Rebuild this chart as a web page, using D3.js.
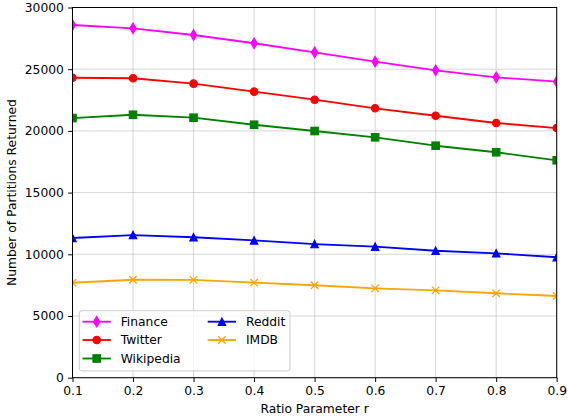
<!DOCTYPE html>
<html>
<head>
<meta charset="utf-8">
<script src="https://cdn.jsdelivr.net/npm/d3@7"></script>
<style>
  html, body { margin: 0; padding: 0; background: #fff; }
  svg { display: block; font-family: "DejaVu Sans", sans-serif; }
</style>
</head>
<body>
<svg id="chart" width="568" height="416"></svg>
<script>
// ---- data ----
const ratios = [0.1, 0.2, 0.3, 0.4, 0.5, 0.6, 0.7, 0.8, 0.9];
const finance   = [28580, 28310, 27770, 27100, 26370, 25610, 24910, 24340, 23990];
const twitter   = [24310, 24270, 23830, 23180, 22530, 21830, 21230, 20640, 20230];
const wikipedia = [21040, 21310, 21070, 20500, 19990, 19480, 18800, 18270, 17620];
const reddit    = [11320, 11560, 11380, 11130, 10830, 10620, 10290, 10080, 9760];
const imdb      = [7700, 7940, 7930, 7700, 7490, 7240, 7080, 6840, 6620];
const seriesNames = ["Finance", "Twitter", "Wikipedia", "Reddit", "IMDB"];
const xTicks = [0.1, 0.2, 0.3, 0.4, 0.5, 0.6, 0.7, 0.8, 0.9];
const yTicks = [0, 5000, 10000, 15000, 20000, 25000, 30000];
const xLabel = "Ratio Parameter r";
const yLabel = "Number of Partitions Returned";

const series = [
  { name: seriesNames[0], values: finance,   color: "#ff00ff", marker: "thindiamond" },
  { name: seriesNames[1], values: twitter,   color: "#ff0000", marker: "circle" },
  { name: seriesNames[2], values: wikipedia, color: "#008000", marker: "square" },
  { name: seriesNames[3], values: reddit,    color: "#0000ff", marker: "triangle" },
  { name: seriesNames[4], values: imdb,      color: "#ffa500", marker: "x" }
];

// ---- layout ----
const L = 72.5, R = 556.7, T = 7.5, B = 377.7;
const fs = 12.3;
const svg = d3.select("#chart");

const x = d3.scaleLinear().domain([0.1, 0.9]).range([L, R]);
const y = d3.scaleLinear().domain([0, 30000]).range([B, T]);

// clip
svg.append("defs").append("clipPath").attr("id", "clip")
  .append("rect").attr("x", L).attr("y", T).attr("width", R - L).attr("height", B - T);

// grid
const grid = svg.append("g");
grid.selectAll("line.gx").data(xTicks).enter().append("line")
  .attr("x1", d => x(d)).attr("x2", d => x(d)).attr("y1", T).attr("y2", B)
  .attr("stroke", "#b0b0b0").attr("stroke-opacity", 0.5).attr("stroke-width", 1);
grid.selectAll("line.gy").data(yTicks).enter().append("line")
  .attr("x1", L).attr("x2", R).attr("y1", d => y(d)).attr("y2", d => y(d))
  .attr("stroke", "#b0b0b0").attr("stroke-opacity", 0.5).attr("stroke-width", 1);

// axes
const xAxis = d3.axisBottom(x).tickValues(xTicks).tickFormat(d3.format(".1f")).tickSize(4.3).tickPadding(4.3);
const yAxis = d3.axisLeft(y).tickValues(yTicks).tickFormat(d => String(d)).tickSize(4.3).tickPadding(4.3);

const gx = svg.append("g").attr("transform", `translate(0,${B})`).call(xAxis);
const gy = svg.append("g").attr("transform", `translate(${L},0)`).call(yAxis);
[gx, gy].forEach(g => {
  g.select(".domain").remove();
  g.selectAll(".tick line").attr("stroke", "#000").attr("stroke-width", 1);
  g.selectAll(".tick text").attr("fill", "#000").style("font-size", fs + "px")
    .style("font-family", "'DejaVu Sans', sans-serif");
});

// lines & markers
const lineGen = d3.line().x((d, i) => x(ratios[i])).y(d => y(d));
const plot = svg.append("g").attr("clip-path", "url(#clip)");

const ms = 7.4;
function drawMarker(g, type, cx, cy, color) {
  if (type === "circle") {
    g.append("circle").attr("cx", cx).attr("cy", cy).attr("r", ms / 2)
      .attr("fill", color).attr("stroke", color).attr("stroke-width", 1.2);
  } else if (type === "square") {
    g.append("rect").attr("x", cx - ms / 2).attr("y", cy - ms / 2).attr("width", ms).attr("height", ms)
      .attr("fill", color).attr("stroke", color).attr("stroke-width", 1.2);
  } else if (type === "triangle") {
    const h = ms / 2;
    g.append("path").attr("d", `M${cx},${cy - h}L${cx - h},${cy + h}L${cx + h},${cy + h}Z`)
      .attr("fill", color).attr("stroke", color).attr("stroke-width", 1.2).attr("stroke-linejoin", "miter");
  } else if (type === "thindiamond") {
    const hy = ms * Math.SQRT2 / 2, hx = hy * 0.6;
    g.append("path").attr("d", `M${cx},${cy - hy}L${cx + hx},${cy}L${cx},${cy + hy}L${cx - hx},${cy}Z`)
      .attr("fill", color).attr("stroke", color).attr("stroke-width", 1.2);
  } else if (type === "x") {
    const h = ms / 2;
    g.append("path").attr("d", `M${cx - h},${cy - h}L${cx + h},${cy + h}M${cx - h},${cy + h}L${cx + h},${cy - h}`)
      .attr("fill", "none").attr("stroke", color).attr("stroke-width", 1.3);
  }
}

series.forEach(s => {
  plot.append("path").datum(s.values).attr("d", lineGen)
    .attr("fill", "none").attr("stroke", s.color).attr("stroke-width", 1.85)
    .attr("stroke-linejoin", "round").attr("stroke-linecap", "square");
  const mg = plot.append("g");
  s.values.forEach((v, i) => drawMarker(mg, s.marker, x(ratios[i]), y(v), s.color));
});

// spines
svg.append("rect").attr("x", L).attr("y", T).attr("width", R - L).attr("height", B - T)
  .attr("fill", "none").attr("stroke", "#000").attr("stroke-width", 1);

// axis labels
svg.append("text").attr("x", (L + R) / 2).attr("y", 412.5).attr("text-anchor", "middle")
  .style("font-size", fs + "px").attr("fill", "#000").text(xLabel);
svg.append("text").attr("transform", `translate(16,${(T + B) / 2}) rotate(-90)`)
  .attr("text-anchor", "middle").style("font-size", fs + "px").attr("fill", "#000").text(yLabel);

// legend
const lg = svg.append("g");
lg.append("rect").attr("x", 79.3).attr("y", 310.7).attr("width", 210.7).attr("height", 60.2)
  .attr("rx", 2.5).attr("fill", "#fff").attr("fill-opacity", 0.8).attr("stroke", "#cccccc").attr("stroke-width", 1);
const rowsY = [321.7, 340, 358.5];
const colX = [82.5, 207.7];
series.forEach((s, i) => {
  const col = i < 3 ? 0 : 1, row = i < 3 ? i : i - 3;
  const x0 = colX[col], yy = rowsY[row];
  lg.append("line").attr("x1", x0).attr("x2", x0 + 28.3).attr("y1", yy).attr("y2", yy)
    .attr("stroke", s.color).attr("stroke-width", 1.85);
  drawMarker(lg, s.marker, x0 + 14.2, yy, s.color);
  lg.append("text").attr("x", x0 + 38.2).attr("y", yy).attr("dy", "0.36em")
    .style("font-size", fs + "px").attr("fill", "#000").text(s.name);
});
</script>
</body>
</html>
